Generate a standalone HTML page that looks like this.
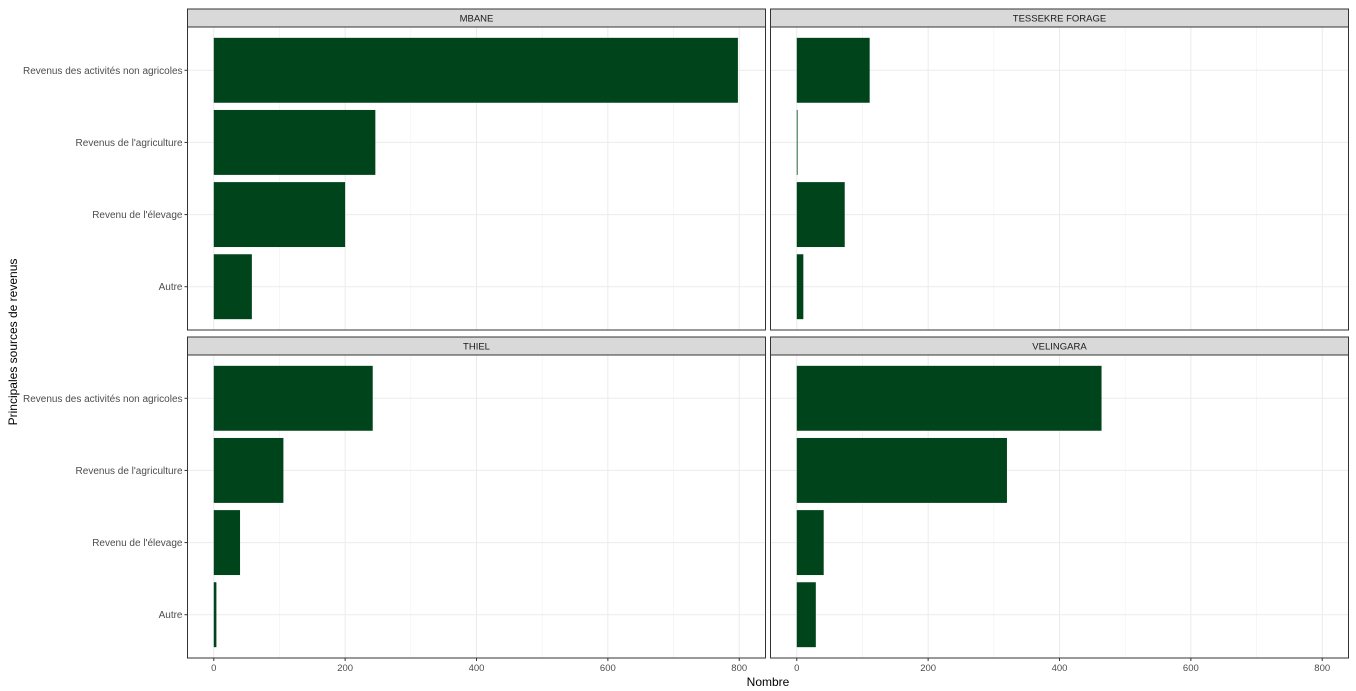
<!DOCTYPE html>
<html><head><meta charset="utf-8">
<style>body{margin:0;background:#fff;}svg{display:block;font-family:"Liberation Sans",Arial,sans-serif;}</style>
</head><body>
<svg id="chart" width="1356" height="691"></svg>
<script>
const categories = ["Revenus des activités non agricoles","Revenus de l'agriculture","Revenu de l'élevage","Autre"];
const facets = ["MBANE","TESSEKRE FORAGE","THIEL","VELINGARA"];
const mbaneValues = [798, 246, 200, 58];
const tessekreValues = [111, 1, 73, 10];
const thielValues = [242, 106, 40, 4];
const velingaraValues = [464, 320, 41, 29];
const xTicks = [0, 200, 400, 600, 800];
const allValues = [mbaneValues, tessekreValues, thielValues, velingaraValues];

const NS = "http://www.w3.org/2000/svg";
const svg = document.getElementById('chart');
function mk(tag, attrs, parent) {
  const e = document.createElementNS(NS, tag);
  for (const k in attrs) e.setAttribute(k, attrs[k]);
  (parent || svg).appendChild(e);
  return e;
}
const panels = [
  {x0:187.5, x1:765.5, y0:27, y1:330, sy:9},
  {x0:770.5, x1:1348.5, y0:27, y1:330, sy:9},
  {x0:187.5, x1:765.5, y0:355, y1:658, sy:337},
  {x0:770.5, x1:1348.5, y0:355, y1:658, sy:337}
];
const xMin = -40, xMax = 840;
panels.forEach((p, i) => {
  const xs = v => p.x0 + (v - xMin) / (xMax - xMin) * (p.x1 - p.x0);
  const step = (p.y1 - p.y0) / (categories.length - 1 + 1.2);
  const yc = j => p.y0 + step * (j + 0.6);
  const g = mk('g', {});
  
  
  for (let v = 100; v < 840; v += 200) mk('line', {x1:xs(v), x2:xs(v), y1:p.y0, y2:p.y1, stroke:'#f0f0f0', 'stroke-width':0.6}, g);
  xTicks.forEach(v => mk('line', {x1:xs(v), x2:xs(v), y1:p.y0, y2:p.y1, stroke:'#ebebeb', 'stroke-width':1}, g));
  categories.forEach((c, j) => mk('line', {x1:p.x0, x2:p.x1, y1:yc(j), y2:yc(j), stroke:'#ebebeb', 'stroke-width':1}, g));
  allValues[i].forEach((v, j) => {
    const b = mk('rect', {x:xs(0), y:yc(j) - step*0.45, width:Math.max(xs(v)-xs(0),0.8), height:step*0.9, fill:'#00441b'}, g);
    
    
  });
  mk('rect', {x:p.x0, y:p.y0, width:p.x1-p.x0, height:p.y1-p.y0, fill:'none', stroke:'#333', 'stroke-width':1}, g);
  const s = mk('rect', {x:p.x0, y:p.sy, width:p.x1-p.x0, height:p.y0-p.sy, fill:'#d9d9d9', stroke:'#333', 'stroke-width':1}, g);
  
  
  const st = mk('text', {x:(p.x0+p.x1)/2, y:(p.sy+p.y0)/2+3.5, 'text-anchor':'middle', 'font-size':9.5, fill:'#1a1a1a'}, g);
  st.textContent = facets[i];
  
  
  if (i % 2 === 0) {
    categories.forEach((c, j) => {
      mk('line', {x1:p.x0-3, x2:p.x0, y1:yc(j), y2:yc(j), stroke:'#333'}, g);
      const t = mk('text', {x:p.x0-5, y:yc(j)+3.5, 'text-anchor':'end', 'font-size':10, fill:'#4d4d4d'}, g);
      t.textContent = c;
      
      
    });
  }
  if (i >= 2) {
    xTicks.forEach(v => {
      mk('line', {x1:xs(v), x2:xs(v), y1:p.y1, y2:p.y1+3, stroke:'#333'}, g);
      const t = mk('text', {x:xs(v), y:p.y1+13, 'text-anchor':'middle', 'font-size':9.5, fill:'#4d4d4d'}, g);
      t.textContent = v;
      
      
    });
  }
});
const xt = mk('text', {x:768, y:686, 'text-anchor':'middle', 'font-size':12, fill:'#000'});
xt.textContent = 'Nombre';


const yt = mk('text', {x:0, y:0, transform:'translate(17,342) rotate(-90)', 'text-anchor':'middle', 'font-size':12, fill:'#000'});
yt.textContent = 'Principales sources de revenus';


</script>
</body></html>
